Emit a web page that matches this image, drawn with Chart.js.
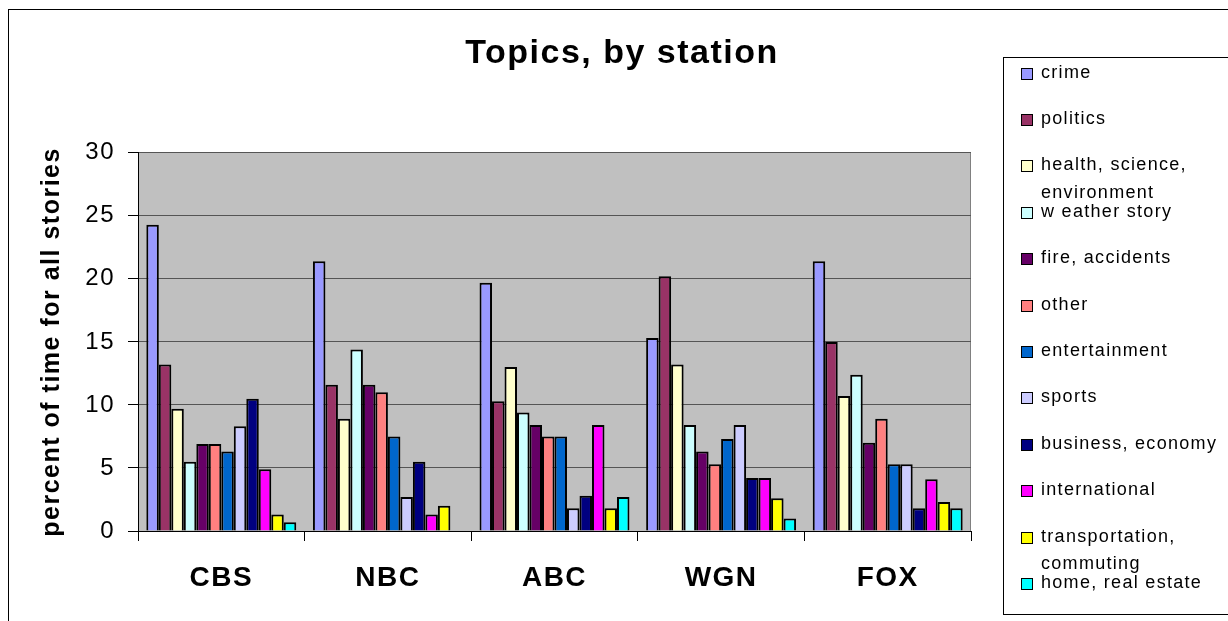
<!DOCTYPE html>
<html>
<head>
<meta charset="utf-8">
<script src="https://cdn.jsdelivr.net/npm/chart.js@4"></script>
<style>
  html, body { margin: 0; padding: 0; background: #fff; overflow: hidden; }
  #wrap { position: relative; width: 1228px; height: 621px; }
  #legend {
    position: absolute; left: 1003px; top: 57px; width: 260px; height: 556px;
    border: 1px solid #000; font-family: "Liberation Sans", Arial, sans-serif;
    font-size: 18px; letter-spacing: 1.3px; color: #000;
  }
  .item { position: absolute; left: 17px; line-height: 27.5px; }
  .sw { position: absolute; left: 0; top: 9px; width: 10px; height: 10px; border: 1px solid #000; }
  .txt { margin-left: 20px; width: 195px; }
</style>
</head>
<body>
<div id="wrap">
  <canvas id="chart" width="1228" height="621"></canvas>
  <div id="legend"></div>
</div>
<script>
const stations = ['CBS', 'NBC', 'ABC', 'WGN', 'FOX'];
const topics = ['crime', 'politics', 'health, science, environment', 'w eather story',
    'fire, accidents', 'other', 'entertainment', 'sports', 'business, economy',
    'international', 'transportation, commuting', 'home, real estate'];
const topicColors = ['#9999FF', '#993366', '#FFFFCC', '#CCFFFF', '#660066', '#FF8080',
    '#0066CC', '#CCCCFF', '#000080', '#FF00FF', '#FFFF00', '#00FFFF'];

// percent of time, per station (CBS, NBC, ABC, WGN, FOX)
const crime = [24.3, 21.4, 19.7, 15.3, 21.4];
const politics = [13.2, 11.6, 10.3, 20.2, 15.0];
const health = [9.7, 8.9, 13.0, 13.2, 10.7];
const weather = [5.5, 14.4, 9.4, 8.4, 12.4];
const fire = [6.9, 11.6, 8.4, 6.3, 7.0];
const other = [6.9, 11.0, 7.5, 5.3, 8.9];
const entertainment = [6.3, 7.5, 7.5, 7.3, 5.3];
const sports = [8.3, 2.7, 1.8, 8.4, 5.3];
const business = [10.5, 5.5, 2.8, 4.2, 1.8];
const international = [4.9, 1.3, 8.4, 4.2, 4.1];
const transportation = [1.3, 2.0, 1.8, 2.6, 2.3];
const home = [0.7, null, 2.7, 1.0, 1.8];

const yTicks = [0, 5, 10, 15, 20, 25, 30];

const series = [crime, politics, health, weather, fire, other, entertainment,
    sports, business, international, transportation, home];

const FONT = '"Liberation Sans", Arial, sans-serif';

const spacing = {
    id: 'spacing',
    beforeLayout(chart) { chart.ctx.letterSpacing = '1.5px'; },
    beforeDraw(chart) {
        const ctx = chart.ctx;
        ctx.letterSpacing = '1.5px';
        const a = chart.chartArea;
        ctx.save();
        ctx.fillStyle = '#C0C0C0';
        ctx.fillRect(a.left, a.top, a.right - a.left, a.bottom - a.top);
        ctx.strokeStyle = '#808080';
        ctx.lineWidth = 1;
        ctx.beginPath();
        ctx.moveTo(Math.round(a.right) - 0.5, a.top);
        ctx.lineTo(Math.round(a.right) - 0.5, a.bottom);
        ctx.stroke();
        ctx.restore();
    },
    afterDraw(chart) {
        const ctx = chart.ctx;
        ctx.save();
        ctx.strokeStyle = '#000';
        ctx.lineWidth = 1;
        ctx.strokeRect(8.5, 9.5, 1400, 800);
        ctx.restore();
    }
};

const chart = new Chart(document.getElementById('chart').getContext('2d'), {
    type: 'bar',
    data: {
        labels: stations,
        datasets: series.map((d, i) => ({
            label: topics[i],
            data: d,
            backgroundColor: topicColors[i],
            borderColor: '#000',
            borderWidth: 2,
            categoryPercentage: 0.9,
            barPercentage: 1.0
        }))
    },
    options: {
        responsive: false,
        animation: false,
        layout: { padding: { left: 16, right: 0, top: 0, bottom: 0 } },
        plugins: {
            legend: { display: false },
            tooltip: { enabled: false },
            title: {
                display: true,
                text: 'Topics, by station',
                color: '#000',
                font: { family: FONT, size: 34, weight: 'bold' },
                padding: { top: 33, bottom: 79 }
            }
        },
        scales: {
            x: {
                grid: { offset: true, drawOnChartArea: false, tickLength: 10, color: '#000' },
                border: { color: '#000', width: 1 },
                ticks: { color: '#000', font: { family: FONT, size: 28, weight: 'bold' }, padding: 20 },
                afterFit(s) { s.height = 90; }
            },
            y: {
                min: 0,
                max: 30,
                afterBuildTicks(s) { s.ticks = yTicks.map(v => ({ value: v })); },
                grid: { color: '#555', tickColor: '#000', tickLength: 10 },
                border: { color: '#000', width: 1 },
                ticks: { color: '#000', font: { family: FONT, size: 24 }, padding: 13 },
                title: {
                    display: true,
                    text: 'percent of time for all stories',
                    color: '#000',
                    font: { family: FONT, size: 25, weight: 'bold' },
                    padding: { top: 21, bottom: 0 }
                },
                afterFit(s) { s.width = 122; }
            },
            y2: {
                position: 'right',
                display: true,
                grid: { display: false, drawTicks: false },
                border: { display: false },
                ticks: { display: false },
                afterFit(s) { s.width = 257; }
            }
        }
    },
    plugins: [spacing]
});

// legend built from the same arrays
const legend = document.getElementById('legend');
topics.forEach((t, i) => {
    const item = document.createElement('div');
    item.className = 'item';
    item.style.top = (0.5 + i * 46.4) + 'px';
    const sw = document.createElement('div');
    sw.className = 'sw';
    sw.style.background = topicColors[i];
    const txt = document.createElement('div');
    txt.className = 'txt';
    txt.textContent = t;
    item.appendChild(sw);
    item.appendChild(txt);
    legend.appendChild(item);
});
</script>
</body>
</html>
